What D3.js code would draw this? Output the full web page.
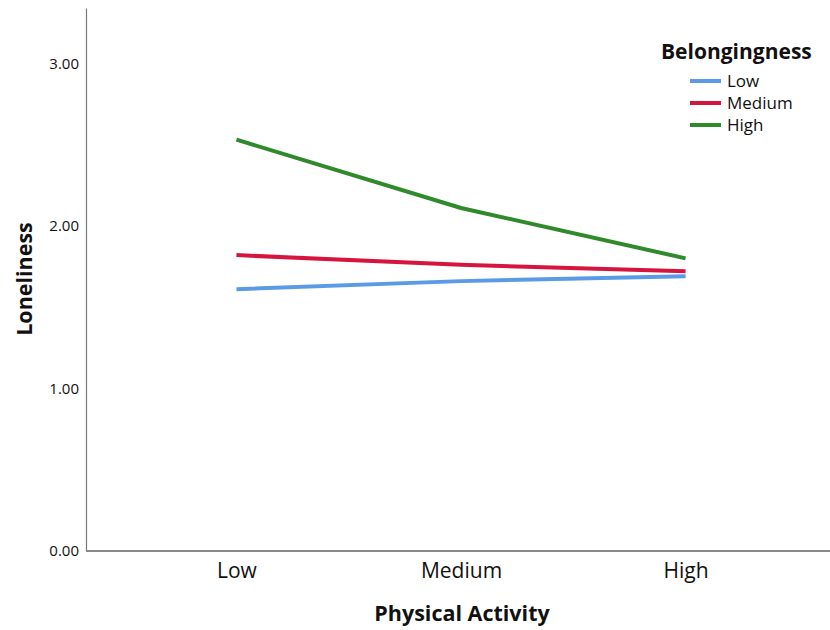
<!DOCTYPE html>
<html>
<head>
<meta charset="utf-8">
<script src="https://cdn.jsdelivr.net/npm/d3@7"></script>
<style>
  body { margin: 0; background: #fff; }
  text { font-family: "Open Sans", "DejaVu Sans", sans-serif; fill: #111; }
</style>
</head>
<body>
<div id="chart"></div>
<script>
// data
const activity = ["Low", "Medium", "High"];
const groups = ["Low", "Medium", "High"];
const lowBelong = [1.61, 1.66, 1.69];
const mediumBelong = [1.82, 1.76, 1.72];
const highBelong = [2.53, 2.11, 1.80];
const yTicks = [0, 1, 2, 3];
const colors = ["#5b9be6", "#d6153f", "#2f8a2b"];

const series = [lowBelong, mediumBelong, highBelong];

var width = 830, height = 630;
var margin = {top: 8, right: 0, bottom: 79, left: 86};

var svg = d3.select("#chart")
  .append("svg")
  .attr("width", width)
  .attr("height", height);

var x = d3.scalePoint()
  .domain(activity)
  .range([margin.left, 836])
  .padding(0.67);

var y = d3.scaleLinear()
  .domain([0, 3.34])
  .range([height - margin.bottom, margin.top]);

// y axis
var yAxis = svg.append("g")
  .attr("transform", "translate(" + margin.left + ",0)")
  .call(d3.axisLeft(y).tickValues(yTicks).tickSize(0).tickPadding(7).tickFormat(d3.format(".2f")));
yAxis.select(".domain").attr("stroke", "#777").attr("stroke-width", 1.2);
yAxis.selectAll("text")
  .style("font-size", "15px")
  .attr("fill", "#222");

// x axis
var xAxis = svg.append("g")
  .attr("transform", "translate(0," + y(0) + ")")
  .call(d3.axisBottom(x).tickSize(0).tickPadding(12));
xAxis.select(".domain")
  .attr("d", "M" + margin.left + ",0H" + width)
  .attr("stroke", "#888").attr("stroke-width", 2);
xAxis.selectAll("text")
  .style("font-size", "21px")
  .attr("fill", "#111");

// axis titles
svg.append("text")
  .attr("x", 462)
  .attr("y", 621)
  .style("text-anchor", "middle")
  .style("font-size", "21.5px")
  .style("font-weight", "bold")
  .text("Physical Activity");

svg.append("text")
  .attr("transform", "translate(32,279) rotate(-90)")
  .style("text-anchor", "middle")
  .style("font-size", "21.5px")
  .style("font-weight", "bold")
  .text("Loneliness");

// lines
var line = d3.line()
  .x((d, i) => x(activity[i]))
  .y(d => y(d));

svg.selectAll(".series")
  .data(series)
  .enter()
  .append("path")
    .attr("class", "series")
    .attr("fill", "none")
    .attr("stroke", (d, i) => colors[i])
    .attr("stroke-width", 4)
    .attr("d", line);

// legend
var legend = svg.append("g");
legend.append("text")
  .attr("x", 661)
  .attr("y", 59)
  .style("font-size", "21px")
  .style("font-weight", "bold")
  .text("Belongingness");

var items = legend.selectAll(".item")
  .data(groups)
  .enter()
  .append("g")
    .attr("class", "item")
    .attr("transform", (d, i) => "translate(0," + (81 + i * 22) + ")");
items.append("line")
  .attr("x1", 690).attr("x2", 721)
  .attr("stroke", (d, i) => colors[i])
  .attr("stroke-width", 4);
items.append("text")
  .attr("x", 727)
  .attr("y", 6)
  .style("font-size", "17px")
  .text(d => d);
</script>
</body>
</html>
